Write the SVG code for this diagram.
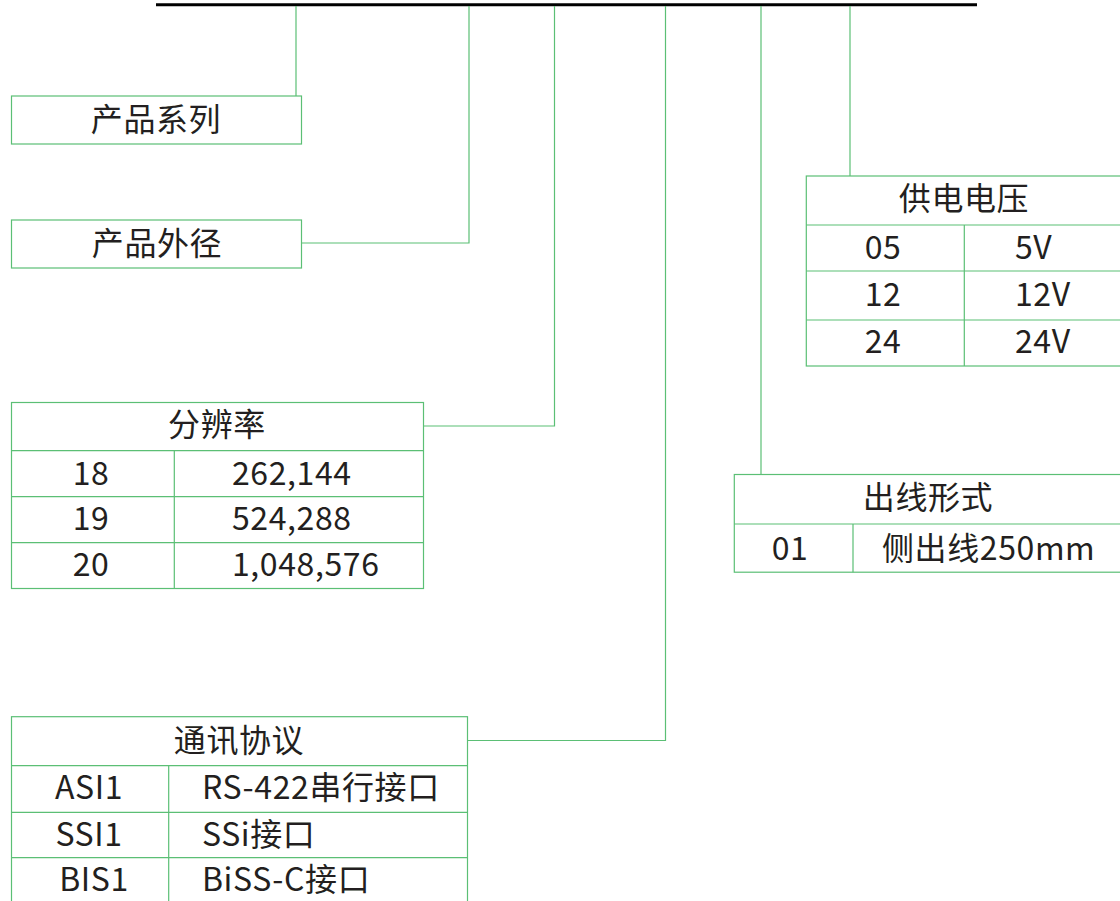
<svg xmlns="http://www.w3.org/2000/svg" width="1120" height="901" viewBox="0 0 1120 901">
<style>
.b{fill:#fff;stroke:#5bbf75;stroke-width:1.2}
.l{fill:none;stroke:#5bbf75;stroke-width:1.2}
text{font-family:"Noto Sans CJK SC","Noto Sans",sans-serif;font-size:32px;letter-spacing:0.6px;fill:#231f20}
.c{text-anchor:middle}
</style>
<rect width="1120" height="901" fill="#fff"/>
<line x1="156" y1="4.8" x2="977" y2="4.8" stroke="#000" stroke-width="3"/>
<g id="connectors">
<polyline class="l" points="296,6 296,96"/>
<polyline class="l" points="469,6 469,243 302,243"/>
<polyline class="l" points="554.5,6 554.5,426 423,426"/>
<polyline class="l" points="665.5,6 665.5,740.5 467,740.5"/>
<polyline class="l" points="761,6 761,474.5"/>
<polyline class="l" points="850,6 850,176"/>
</g>
<g id="series">
<rect class="b" x="11.5" y="96" width="290" height="48"/>
<text class="c" x="156" y="131">产品系列</text>
</g>
<g id="diameter">
<rect class="b" x="11.5" y="220" width="290" height="48"/>
<text class="c" x="157" y="255">产品外径</text>
</g>
<g id="resolution">
<rect class="b" x="11.5" y="402.5" width="412" height="186"/>
<path class="l" d="M11.5 450.7H423.5M11.5 496.7H423.5M11.5 542.7H423.5M174.3 450.7V588.5"/>
<text class="c" x="217" y="436">分辨率</text>
<text class="c" x="91" y="485">18</text>
<text x="232" y="485">262,144</text>
<text class="c" x="91" y="530">19</text>
<text x="232" y="530">524,288</text>
<text class="c" x="91" y="576">20</text>
<text x="232" y="576">1,048,576</text>
</g>
<g id="protocol">
<rect class="b" x="11.5" y="716.7" width="456" height="200"/>
<path class="l" d="M11.5 765.7H467.5M11.5 812.3H467.5M11.5 857.7H467.5M168.7 765.7V901"/>
<text class="c" x="239" y="752">通讯协议</text>
<text class="c" x="89" y="799">ASI1</text>
<text x="202" y="799">RS-422串行接口</text>
<text class="c" x="89" y="845.5">SSI1</text>
<text x="202" y="845.5">SSi接口</text>
<text class="c" x="94" y="890.5">BIS1</text>
<text x="202" y="890.5">BiSS-C接口</text>
</g>
<g id="voltage">
<rect class="b" x="806.3" y="176" width="316" height="190"/>
<path class="l" d="M806.3 225H1122.3M806.3 271H1122.3M806.3 320H1122.3M964.3 225V366"/>
<text class="c" x="964" y="210">供电电压</text>
<text class="c" x="883" y="259">05</text>
<text x="1015" y="259">5V</text>
<text class="c" x="883" y="305.5">12</text>
<text x="1015" y="305.5">12V</text>
<text class="c" x="883" y="353">24</text>
<text x="1015" y="353">24V</text>
</g>
<g id="outlet">
<rect class="b" x="734.3" y="474.5" width="388" height="97.7"/>
<path class="l" d="M734.3 524H1122.3M853 524V572.2"/>
<text class="c" x="928" y="509">出线形式</text>
<text class="c" x="790" y="560">01</text>
<text x="882" y="560">侧出线250mm</text>
</g>
</svg>
